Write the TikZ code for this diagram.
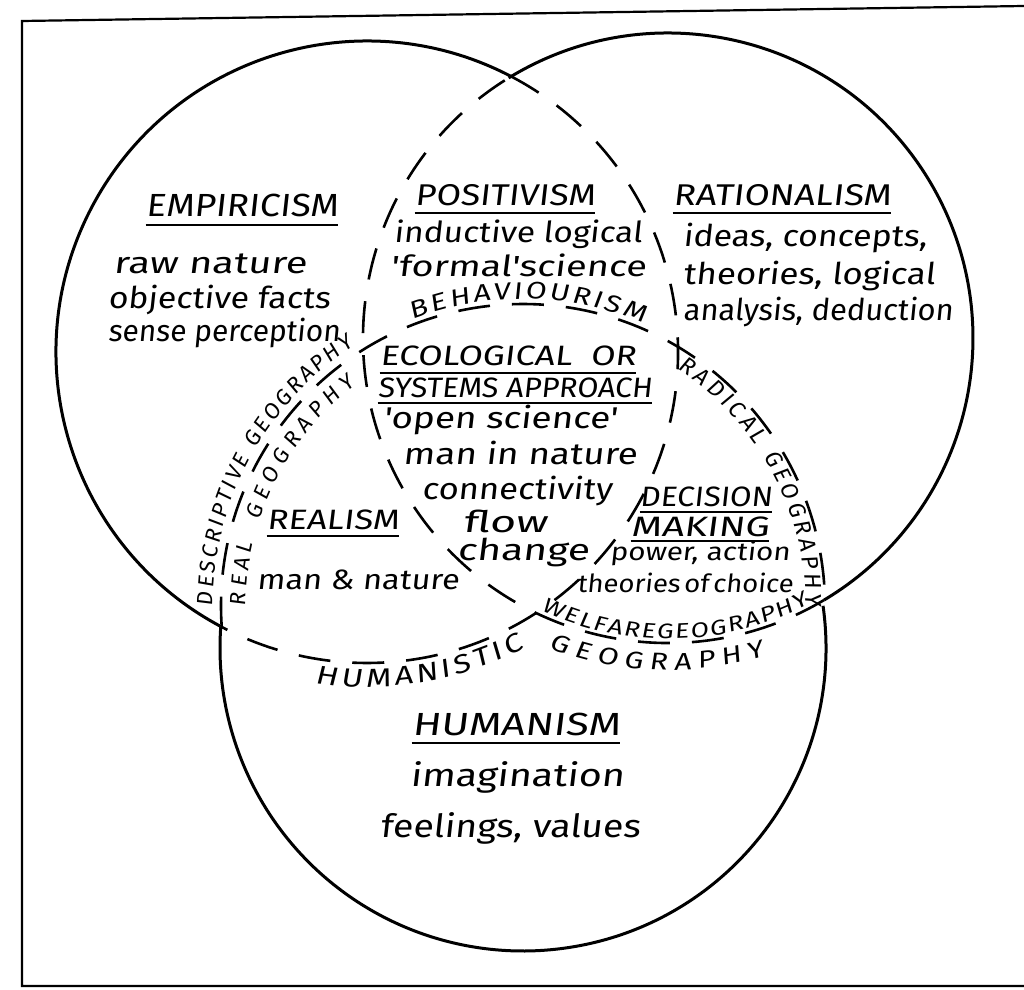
\documentclass[tikz,border=0pt]{standalone}
\usepackage{fontspec}
\usetikzlibrary{decorations.text,calc}
\newfontfamily\hand{Fira Sans}[FakeSlant=0.12,FakeStretch=1.25]
\newfontfamily\handn{Fira Sans}[FakeSlant=0.1]
% width, font size, text: natural height kept, width forced
\newcommand\hw[3]{\resizebox{#1}{\height}{\hand\fontsize{#2}{#2}\selectfont #3}}
\newcommand\cA{\handn\fontsize{11pt}{13pt}\selectfont}
\newcommand\cR{\handn\fontsize{11.5pt}{14pt}\selectfont}
\newcommand\cB{\hand\fontsize{12pt}{14pt}\selectfont}
\newcommand\cH{\hand\fontsize{13pt}{15pt}\selectfont}
\newcommand\cW{\hand\fontsize{10.5pt}{13pt}\selectfont}
\newcommand\cG{\hand\fontsize{12pt}{14pt}\selectfont}
\tikzset{
  circ/.style={line width=1.5pt},
  dsh/.style={line width=1.3pt, dash pattern=on 16pt off 11pt},
  ul/.style={line width=1pt},
  frm/.style={line width=1.1pt},
  lbl/.style={inner sep=0pt},
  curv/.style={decorate, decoration={text along path, text align={fit to path}}}
}
\begin{document}
\begin{tikzpicture}[x=0.5pt,y=-0.5pt]
\useasboundingbox (0,0) rectangle (1024,990);
% frame
\draw[frm] (1024,6) -- (22,21) -- (22,986) -- (1024,986);
% circles: solid outer boundary
\draw[circ] ([shift={(367,352)}]118.1:311) arc[start angle=118.1, end angle=297.6, radius=311];
\draw[circ] ([shift={(668,338)}]-121.5:305) arc[start angle=-121.5, end angle=59.2, radius=305];
\draw[circ] ([shift={(523,648)}]-8.0:303) arc[start angle=-8.0, end angle=184, radius=303];
% dashed inner arcs
\draw[dsh] ([shift={(367,352)}]-62.4:311) arc[start angle=-62.4, end angle=118.1, radius=311];
\draw[dsh] ([shift={(668,338)}]59.2:305) arc[start angle=59.2, end angle=238.5, radius=305];
\draw[dsh] ([shift={(523,606)}]175.7:302) arc[start angle=175.7, end angle=359.8, radius=302];

% Empiricism
\node[lbl] (emp) at (242,205) {\hw{96pt}{16pt}{EMPIRICISM}};
\draw[ul] ([yshift=-4pt]emp.south west) -- ([yshift=-4pt]emp.south east);
\node[lbl] (emp1) at (210,264) {\hw{96.5pt}{15pt}{raw nature}};
\node[lbl] (emp2) at (219,300) {\hw{111pt}{15pt}{objective facts}};
\node[lbl] (emp3) at (224,333) {\hw{116pt}{15pt}{sense perception}};

% Positivism
\node[lbl] (pos) at (505,195) {\hw{90pt}{15pt}{POSITIVISM}};
\draw[ul] ([yshift=-3.5pt]pos.south west) -- ([yshift=-3.5pt]pos.south east);
\node[lbl] (pos1) at (518,234) {\hw{124pt}{14.5pt}{inductive logical}};
\node[lbl] (pos2) at (518,265) {\hw{128pt}{14.5pt}{'formal'science}};

% Rationalism
\node[lbl] (rat) at (782,195) {\hw{109pt}{15pt}{RATIONALISM}};
\draw[ul] ([yshift=-3.5pt]rat.south west) -- ([yshift=-3.5pt]rat.south east);
\node[lbl] (rat1) at (805,238) {\hw{122pt}{15pt}{ideas, concepts,}};
\node[lbl] (rat2) at (809,276) {\hw{126pt}{15pt}{theories, logical}};
\node[lbl] (rat3) at (818,312) {\hw{135pt}{15pt}{analysis, deduction}};

% Ecological
\node[lbl] (eco1) at (508,356) {\hw{128pt}{14pt}{ECOLOGICAL\ \ OR}};
\draw[ul] ([yshift=-3.5pt]eco1.south west) -- ([yshift=-3.5pt]eco1.south east);
\node[lbl] (eco2) at (515,388) {\hw{137pt}{14pt}{SYSTEMS APPROACH}};
\draw[ul] ([yshift=-2.5pt]eco2.south west) -- ([yshift=-2.5pt]eco2.south east);
\node[lbl] (eco3) at (500,420) {\hw{117pt}{15pt}{'open science'}};
\node[lbl] (eco4) at (520,453) {\hw{117pt}{15pt}{man in nature}};
\node[lbl] (eco5) at (517,491) {\hw{95pt}{15pt}{connectivity}};
\node[lbl] (eco6) at (505,521) {\hw{42pt}{15pt}{flow}};
\node[lbl] (eco7) at (523,552) {\hw{66pt}{15pt}{change}};

% Realism
\node[lbl] (rea) at (333,520) {\hw{66pt}{14pt}{REALISM}};
\draw[ul] ([yshift=-3pt]rea.south west) -- ([yshift=-3pt]rea.south east);
\node[lbl] (rea1) at (358,580) {\hw{101pt}{14pt}{man \& nature}};

% Decision making
\node[lbl] (dec) at (706,497) {\hw{66pt}{14pt}{DECISION}};
\draw[ul] ([yshift=-2.5pt]dec.south west) -- ([yshift=-2.5pt]dec.south east);
\node[lbl] (mak) at (700,527) {\hw{69pt}{14pt}{MAKING}};
\draw[ul] ([yshift=-2pt]mak.south west) -- ([yshift=-2pt]mak.south east);
\node[lbl] (dec1) at (700,553) {\hw{90pt}{12.5pt}{power, action}};
\node[lbl] (dec2) at (685,583) {\hw{108pt}{12.5pt}{theories\,of\,choice}};

% Humanism
\node[lbl] (hum) at (516,724) {\hw{104pt}{16pt}{HUMANISM}};
\draw[ul] ([yshift=-3.5pt]hum.south west) -- ([yshift=-3.5pt]hum.south east);
\node[lbl] (hum1) at (517,777) {\hw{107pt}{16pt}{imagination}};
\node[lbl] (hum2) at (510,828) {\hw{130pt}{16pt}{feelings, values}};

% curved labels
\path[curv, decoration={text={|\cB|BEHAVIOURISM}}]
  ([shift={(523,606)}]249:307) arc[start angle=249, end angle=293, radius=307];
\path[curv, decoration={text={|\cA|DESCRIPTIVE GEOGRAPHY}}]
  ([shift={(523,606)}]180:310) arc[start angle=180, end angle=237, radius=310];
\path[curv, decoration={text={|\cA|REAL}}]
  ([shift={(523,606)}]180:277) arc[start angle=180, end angle=193, radius=277];
\path[curv, decoration={text={|\cA|GEOGRAPHY}}]
  ([shift={(523,606)}]198:277) arc[start angle=198, end angle=233, radius=277];
\path[curv, decoration={text={|\cR|RADICAL GEOGRAPHY}}]
  ([shift={(523,606)}]-57:283) arc[start angle=-57, end angle=0, radius=283];
\path[curv, decoration={text={|\cW|WELFAREGEOGRAPHY}}]
  ([shift={(668,338)}]115:301) arc[start angle=115, end angle=62, radius=301];
\path[curv, decoration={text={|\cG|GEOGRAPHY}}]
  ([shift={(668,338)}]111:332) arc[start angle=111, end angle=73, radius=332];
\path[curv, decoration={text={|\cH|HUMANISTIC}}]
  ([shift={(367,352)}]99:335) arc[start angle=99, end angle=62, radius=335];
\end{tikzpicture}
\end{document}
